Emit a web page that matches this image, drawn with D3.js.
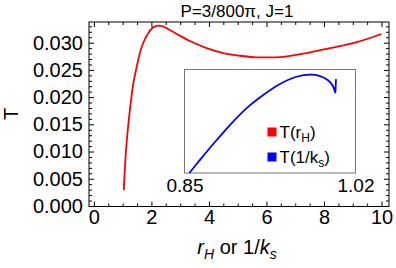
<!DOCTYPE html>
<html>
<head>
<meta charset="utf-8">
<script src="https://cdn.jsdelivr.net/npm/d3@7"></script>
<style>
body { margin: 0; background: #fff; }
text { font-family: "Liberation Sans", Arial, sans-serif; fill: #000; }
</style>
</head>
<body>
<div id="chart"></div>
<script>
// main curve T(r_H)
var rH  = [1.04, 1.11, 1.19, 1.28, 1.37, 1.49, 1.60, 1.71, 1.85, 2.01, 2.18, 2.30, 2.40, 2.58, 2.88, 3.34, 3.92, 4.50, 5.08, 5.66, 6.01, 6.58, 7.40, 8.21, 9.14, 10.0];
var TrH = [0.0029, 0.0097, 0.0146, 0.0189, 0.0225, 0.0256, 0.0281, 0.0299, 0.0314, 0.0326, 0.0331, 0.0331, 0.0330, 0.0325, 0.0316, 0.0303, 0.0290, 0.0281, 0.0276, 0.0273, 0.0273, 0.0274, 0.0281, 0.0290, 0.0301, 0.0316];

// inset curve T(1/k_s)
var ks  = [0.8548, 0.8654, 0.8786, 0.8952, 0.9118, 0.9283, 0.9449, 0.9615, 0.9748, 0.9847, 0.9930, 0.9979, 0.9999, 1.0003, 1.0006];
var Tks = [0.0000, 0.00038, 0.00084, 0.00139, 0.00188, 0.00226, 0.00258, 0.00279, 0.00285, 0.00281, 0.00268, 0.00250, 0.00233, 0.00252, 0.00272];

var xTicks = [0, 2, 4, 6, 8, 10];
var yTicks = [0, 0.005, 0.010, 0.015, 0.020, 0.025, 0.030];
var insetTicks = [0.85, 1.02];
var legendLabels = [["T(r", "H", ")"], ["T(1/k", "s", ")"]];
var legendColors = ["#ff0000", "#0000ff"];

var svgWidth = 396, svgHeight = 268;
var frame = { left: 89, right: 389, top: 22, bottom: 206.5 };

var svg = d3.select("#chart").append("svg")
    .attr("width", svgWidth)
    .attr("height", svgHeight);

var x = d3.scaleLinear().domain([-0.17, 10.26]).range([frame.left, frame.right]);
var y = d3.scaleLinear().domain([-0.0001, 0.0338]).range([frame.bottom, frame.top]);

var xMinor = d3.range(0, 10.01, 0.5).filter(d => d % 2 != 0);
var yMinor = d3.range(0, 0.0335, 0.001).filter(d => Math.round(d * 1000) % 5 != 0);

function tidy(g) {
    g.select(".domain").remove();
    g.selectAll(".tick line").attr("stroke", "#000");
}

// bottom
svg.append("g").attr("transform", `translate(0,${frame.bottom})`)
    .call(d3.axisBottom(x).tickValues(xTicks).tickSize(-5).tickPadding(3).tickFormat(d3.format("d")))
    .call(tidy)
    .selectAll("text").style("font-size", "20px");
svg.append("g").attr("transform", `translate(0,${frame.bottom})`)
    .call(d3.axisBottom(x).tickValues(xMinor).tickSize(-3).tickFormat(""))
    .call(tidy);
// top
svg.append("g").attr("transform", `translate(0,${frame.top})`)
    .call(d3.axisTop(x).tickValues(xTicks).tickSize(-5).tickFormat(""))
    .call(tidy);
svg.append("g").attr("transform", `translate(0,${frame.top})`)
    .call(d3.axisTop(x).tickValues(xMinor).tickSize(-3).tickFormat(""))
    .call(tidy);
// left
svg.append("g").attr("transform", `translate(${frame.left},0)`)
    .call(d3.axisLeft(y).tickValues(yTicks).tickSize(-5).tickPadding(6).tickFormat(d3.format(".3f")))
    .call(tidy)
    .selectAll("text").style("font-size", "20px");
svg.append("g").attr("transform", `translate(${frame.left},0)`)
    .call(d3.axisLeft(y).tickValues(yMinor).tickSize(-3).tickFormat(""))
    .call(tidy);
// right
svg.append("g").attr("transform", `translate(${frame.right},0)`)
    .call(d3.axisRight(y).tickValues(yTicks).tickSize(-5).tickFormat(""))
    .call(tidy);
svg.append("g").attr("transform", `translate(${frame.right},0)`)
    .call(d3.axisRight(y).tickValues(yMinor).tickSize(-3).tickFormat(""))
    .call(tidy);

svg.append("rect")
    .attr("x", frame.left).attr("y", frame.top)
    .attr("width", frame.right - frame.left).attr("height", frame.bottom - frame.top)
    .attr("fill", "none").attr("stroke", "#000").attr("stroke-width", 1);

// red curve
var line = d3.line().curve(d3.curveCatmullRom.alpha(0.5));
svg.append("path")
    .attr("d", line(rH.map((r, i) => [x(r), y(TrH[i])])))
    .attr("fill", "none").attr("stroke", "#ff0000").attr("stroke-width", 1.8);

// inset
var inset = { left: 184.5, right: 355.5, top: 69.5, bottom: 173 };
var xi = d3.scaleLinear().domain([0.85, 1.02]).range([inset.left, inset.right]);
var yi = d3.scaleLinear().domain([0, 0.003]).range([inset.bottom, inset.top]);

svg.append("rect")
    .attr("x", inset.left).attr("y", inset.top)
    .attr("width", inset.right - inset.left).attr("height", inset.bottom - inset.top)
    .attr("fill", "#fff").attr("stroke", "#777").attr("stroke-width", 1);

svg.append("g").attr("transform", `translate(0,${inset.bottom})`)
    .call(d3.axisBottom(xi).tickValues(insetTicks).tickSize(0).tickPadding(6).tickFormat(d3.format(".2f")))
    .call(g => g.select(".domain").remove())
    .selectAll("text").style("font-size", "19px");

svg.append("path")
    .attr("d", line(ks.map((k, i) => [xi(k), yi(Tks[i])])))
    .attr("fill", "none").attr("stroke", "#0000ff").attr("stroke-width", 1.8);

// legend
var leg = svg.append("g");
legendLabels.forEach(function (lab, i) {
    var yy = 132 + i * 25;
    leg.append("rect")
        .attr("x", 267.5).attr("y", yy - 4.5)
        .attr("width", 9).attr("height", 9)
        .attr("fill", legendColors[i]);
    var t = leg.append("text").attr("x", 279.5).attr("y", yy + 6).style("font-size", "17px");
    t.append("tspan").text(lab[0]);
    t.append("tspan").attr("dy", 4).style("font-size", "12px").text(lab[1]);
    t.append("tspan").attr("dy", -4).text(lab[2]);
});

// title
svg.append("text")
    .attr("x", 237).attr("y", 16.5)
    .attr("text-anchor", "middle")
    .style("font-size", "17px")
    .text("P=3/800\u03c0, J=1");

// y label
svg.append("text")
    .attr("transform", "translate(17.5,114) rotate(-90)")
    .attr("text-anchor", "middle")
    .style("font-size", "20px")
    .text("T");

// x label
var xl = svg.append("text")
    .attr("x", 237).attr("y", 254)
    .attr("text-anchor", "middle")
    .style("font-size", "20px");
xl.append("tspan").style("font-style", "italic").text("r");
xl.append("tspan").attr("dy", 5).style("font-style", "italic").style("font-size", "14px").text("H");
xl.append("tspan").attr("dy", -5).text(" or 1/");
xl.append("tspan").style("font-style", "italic").text("k");
xl.append("tspan").attr("dy", 5).style("font-style", "italic").style("font-size", "14px").text("s");
</script>
</body>
</html>
